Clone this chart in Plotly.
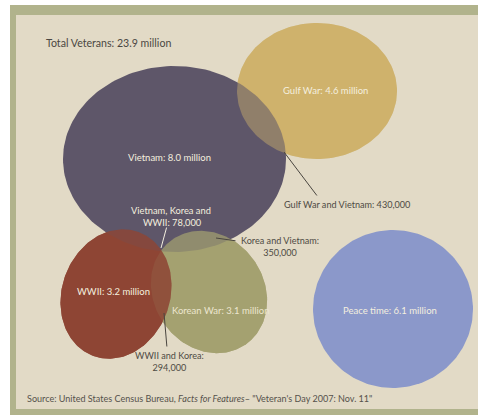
import numpy as np
import plotly.graph_objects as go

# ---------------- data ----------------
groups = ["Gulf War", "Vietnam", "Korean War", "WWII", "Peace time"]
veterans_millions = [4.6, 8.0, 3.1, 3.2, 6.1]
overlap_names = ["Gulf War and Vietnam", "Vietnam, Korea and WWII", "Korea and Vietnam", "WWII and Korea"]
overlap_counts = [430000, 78000, 350000, 294000]
total_veterans_millions = 23.9

# ---------------- layout / style (pixel space) ----------------
W, H = 478, 415
# ellipse geometry: centre x, centre y, semi-axis a, semi-axis b, rotation (deg, screen coords)
geom = {
    "Gulf War":   (317, 91, 80, 68, 0),
    "Vietnam":    (174.5, 159, 111.5, 93, 0),
    "Korean War": (209, 292, 64, 55, 55),
    "WWII":       (116, 294, 66, 54, -70),
    "Peace time": (393, 309, 80, 79, 0),
}
colors = {
    "Gulf War": (207, 178, 108),
    "Vietnam": (94, 86, 105),
    "Korean War": (164, 161, 112),
    "WWII": (142, 69, 53),
    "Peace time": (139, 152, 202),
}
BG = "#e2dac6"
FRAME = "#b1b38c"
DARK = "#4e4a44"
LIGHT = "#f4efdf"
FONT = "Lato, Arial, sans-serif"

def ellipse(name):
    cx, cy, a, b, ang = geom[name]
    t = np.linspace(0, 2 * np.pi, 181)
    p = np.deg2rad(ang)
    x = cx + a * np.cos(t) * np.cos(p) - b * np.sin(t) * np.sin(p)
    y = cy + a * np.cos(t) * np.sin(p) + b * np.sin(t) * np.cos(p)
    return x, y

def rgba(c, a):
    return f"rgba({c[0]},{c[1]},{c[2]},{a})"

fig = go.Figure()

# draw order: opaque bases, then Vietnam, then translucent re-draws for overlaps
layers = [
    ("Korean War", 1.0), ("WWII", 1.0), ("Gulf War", 1.0), ("Peace time", 1.0),
    ("Vietnam", 1.0),
    ("Gulf War", 0.45), ("Korean War", 0.72), ("WWII", 0.82),
]
for name, alpha in layers:
    x, y = ellipse(name)
    fig.add_trace(go.Scatter(
        x=x, y=y, mode="lines", fill="toself",
        fillcolor=rgba(colors[name], alpha),
        line=dict(width=0), hoverinfo="skip", showlegend=False,
    ))

vals = dict(zip(groups, veterans_millions))
def m(n):
    return f"{vals[n]:.1f} million"

labels = [
    (f"Gulf War: {m('Gulf War')}", 325, 90, LIGHT, 9.5),
    (f"Vietnam: {m('Vietnam')}", 169, 157, LIGHT, 9.5),
    (f"WWII: {m('WWII')}", 113, 291, LIGHT, 9.5),
    (f"Korean War: {m('Korean War')}", 220, 310, "#ece6cf", 9.5),
    (f"Peace time: {m('Peace time')}", 390, 310, LIGHT, 9.5),
    (f"{overlap_names[0]}: {overlap_counts[0]:,}", 347, 204, DARK, 9.1),
    (f"Vietnam, Korea and<br> WWII: {overlap_counts[1]:,}", 171, 216.5, LIGHT, 9.3),
    (f"Korea and Vietnam:<br>{overlap_counts[2]:,}", 280, 246, DARK, 9.1),
    (f"WWII and Korea:<br>{overlap_counts[3]:,}", 169, 361, DARK, 9.1),
]
for txt, x, y, col, size in labels:
    fig.add_annotation(x=x, y=y, xref="x", yref="y", text=txt, showarrow=False,
                       font=dict(family=FONT, size=size, color=col), align="center",
                       xanchor="center", yanchor="middle")

fig.add_annotation(x=44, y=43, xref="x", yref="y",
                   text=f"Total Veterans: {total_veterans_millions} million",
                   showarrow=False, xanchor="left", yanchor="middle",
                   font=dict(family=FONT, size=10.6, color="#4a4742"))
fig.add_annotation(x=25, y=398, xref="x", yref="y",
                   text="Source: United States Census Bureau, <i>Facts for Features</i>– \"Veteran's Day 2007: Nov. 11\"",
                   showarrow=False, xanchor="left", yanchor="middle",
                   font=dict(family=FONT, size=9.05, color="#55514b"))

# leader lines: (head x, head y, tail x, tail y, colour)
leaders = [
    (284, 152, 318, 197, "#4a4640"),
    (161, 248, 167, 226, LIGHT),
    (216, 238, 237, 241, "#4a4640"),
    (164, 313, 167, 348, "#4a4640"),
]
for hx, hy, tx, ty, col in leaders:
    fig.add_annotation(x=hx, y=hy, ax=tx, ay=ty, xref="x", yref="y", axref="x", ayref="y",
                       text="", showarrow=True, arrowhead=0, arrowwidth=1, arrowcolor=col)

fig.update_layout(
    width=W, height=H, margin=dict(l=0, r=0, t=0, b=0),
    paper_bgcolor="white", plot_bgcolor="rgba(0,0,0,0)",
    xaxis=dict(range=[0, W], visible=False, fixedrange=True),
    yaxis=dict(range=[H, 0], visible=False, fixedrange=True),
    shapes=[
        dict(type="rect", xref="x", yref="y", x0=10, x1=W, y0=5, y1=H,
             fillcolor=FRAME, line=dict(width=0), layer="below"),
        dict(type="rect", xref="x", yref="y", x0=16, x1=W, y0=15, y1=409,
             fillcolor=BG, line=dict(width=0), layer="below"),
    ],
)

fig.write_html("out.html")
